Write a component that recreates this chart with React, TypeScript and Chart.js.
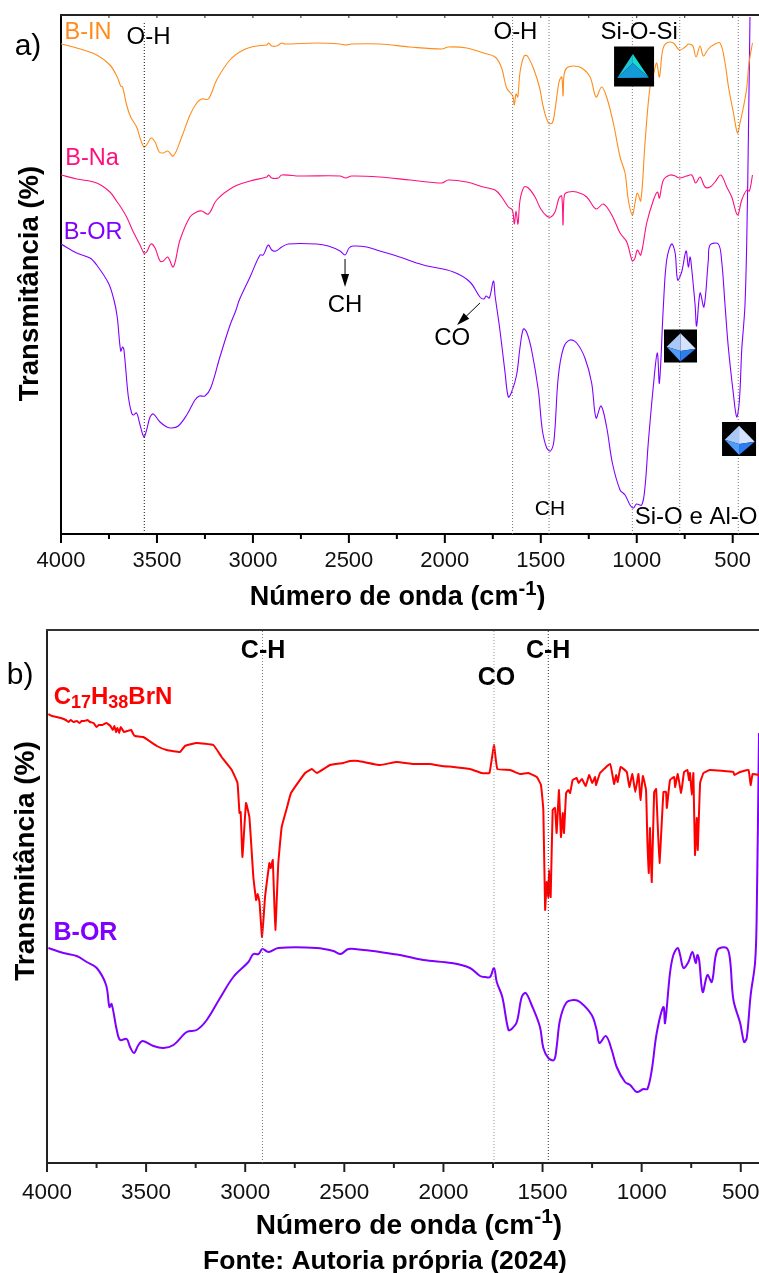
import React, { useEffect, useRef } from "react";
import { Chart, registerables } from "chart.js";

Chart.register(...registerables);

type Pt = [number, number];
const FONT = '"Liberation Sans", Arial, sans-serif';

const xTicksMajor = [4000, 3500, 3000, 2500, 2000, 1500, 1000, 500];
const xTicksMinor = [3750, 3250, 2750, 2250, 1750, 1250, 750];

// Panel a) series: [wavenumber, offset transmittance]
const aBIn: Pt[] = [[4000,490],[3918,486],[3814,479],[3745,469],[3707,457],[3689,448],[3679,447],[3658,429],[3637,417],[3606,407],[3588,396],[3568,387],[3554,389],[3531,396],[3510,392],[3488,382],[3467,381],[3444,383],[3415,378],[3371,397],[3328,419],[3293,431],[3267,435],[3232,435],[3189,454],[3120,474],[3050,484],[2980,488],[2928,489],[2918,491],[2902,488],[2876,488],[2850,491],[2833,490],[2668,491],[2546,490],[2517,489],[2486,490],[2338,490],[2181,487],[2016,485],[1982,487],[1886,486],[1799,481],[1738,477],[1704,466],[1678,446],[1646,438],[1638,429],[1629,440],[1620,437],[1608,462],[1587,478],[1570,478],[1539,466],[1507,447],[1487,427],[1460,411],[1440,411],[1426,424],[1405,452],[1391,457],[1384,438],[1379,459],[1365,466],[1330,468],[1287,466],[1243,457],[1212,437],[1183,447],[1157,437],[1122,411],[1087,377],[1061,361],[1044,334],[1023,319],[1009,331],[997,341],[979,333],[957,391],[931,447],[910,462],[896,471],[882,457],[865,484],[844,491],[809,491],[778,484],[748,487],[731,490],[713,489],[705,487],[691,477],[670,488],[653,478],[627,485],[601,489],[566,491],[540,471],[522,447],[496,421],[475,401],[462,411],[444,427],[427,446],[415,471],[397,491]];
const aBNa: Pt[] = [[4000,359],[3918,355],[3814,351],[3745,342],[3707,332],[3689,327],[3658,317],[3623,302],[3588,289],[3568,281],[3554,282],[3531,290],[3510,286],[3484,273],[3467,273],[3444,277],[3415,267],[3380,294],[3328,317],[3293,322],[3267,323],[3232,320],[3189,334],[3102,347],[3015,353],[2928,357],[2918,359],[2902,356],[2868,356],[2850,359],[2755,358],[2546,358],[2517,356],[2486,358],[2338,357],[2181,354],[2016,351],[1982,354],[1886,352],[1799,347],[1738,344],[1704,337],[1669,327],[1648,324],[1638,310],[1629,323],[1619,310],[1608,334],[1587,347],[1565,346],[1530,337],[1500,325],[1469,318],[1448,317],[1426,322],[1405,336],[1391,338],[1384,309],[1377,339],[1356,342],[1313,342],[1261,337],[1212,325],[1174,330],[1130,319],[1087,301],[1052,292],[1023,273],[1009,276],[997,284],[979,279],[948,311],[913,334],[892,342],[882,336],[861,354],[826,359],[800,358],[778,356],[740,358],[713,359],[693,351],[670,357],[644,347],[618,347],[592,352],[562,359],[531,347],[505,337],[475,319],[453,334],[427,344],[413,343],[397,359]];
const aBOr: Pt[] = [[4000,290],[3918,281],[3849,276],[3814,269],[3753,251],[3724,234],[3707,217],[3689,183],[3679,187],[3672,184],[3649,137],[3632,121],[3623,119],[3606,121],[3588,109],[3568,97],[3554,104],[3536,117],[3519,120],[3484,112],[3449,107],[3423,106],[3389,108],[3345,119],[3302,134],[3279,138],[3250,138],[3220,146],[3172,177],[3119,209],[3088,224],[3071,234],[3015,257],[2963,279],[2946,279],[2920,289],[2902,284],[2880,283],[2850,287],[2816,290],[2668,290],[2607,288],[2546,283],[2520,279],[2499,286],[2477,288],[2407,287],[2338,283],[2251,278],[2112,269],[1955,262],[1869,252],[1817,237],[1796,235],[1785,238],[1768,236],[1747,253],[1738,238],[1713,204],[1686,161],[1669,137],[1652,142],[1626,159],[1608,187],[1591,205],[1574,202],[1548,184],[1513,144],[1492,104],[1469,86],[1449,83],[1431,94],[1409,157],[1382,186],[1348,194],[1313,191],[1270,176],[1235,151],[1212,116],[1186,128],[1157,107],[1127,71],[1087,44],[1061,39],[1035,29],[1018,26],[1001,30],[974,29],[957,47],[940,91],[914,147],[893,181],[882,151],[861,229],[844,274],[818,290],[800,281],[787,254],[766,262],[743,283],[731,267],[722,277],[713,264],[696,229],[688,208],[670,241],[650,227],[627,274],[618,289],[575,290],[558,274],[540,229],[523,187],[497,141],[479,117],[465,134],[453,184],[445,204],[436,229],[427,291],[418,401],[410,517]];

// Panel b) series
const bSurfactant: Pt[] = [[3993,449],[3975,447],[3951,446],[3930,445],[3905,443],[3892,441],[3880,443],[3867,441],[3850,442],[3835,440],[3825,442],[3812,442],[3795,443],[3783,441],[3765,440],[3750,436],[3738,438],[3720,438],[3700,440],[3680,437],[3668,433],[3660,437],[3652,431],[3645,435],[3636,430],[3628,436],[3612,431],[3595,432],[3575,433],[3565,429],[3556,427],[3514,426],[3446,417],[3396,413],[3329,411],[3304,417],[3245,420],[3161,418],[3119,406],[3068,393],[3039,380],[3029,350],[3023,351],[3014,306],[2996,360],[2979,346],[2959,286],[2945,263],[2937,269],[2928,261],[2915,226],[2900,266],[2878,300],[2871,295],[2861,303],[2848,233],[2833,300],[2816,336],[2790,355],[2769,370],[2698,390],[2664,394],[2639,390],[2572,398],[2505,400],[2471,402],[2429,402],[2320,398],[2236,401],[2152,399],[2068,399],[2009,397],[1950,396],[1866,394],[1807,390],[1768,390],[1745,418],[1728,394],[1664,393],[1614,389],[1572,390],[1529,386],[1508,378],[1496,353],[1487,253],[1479,281],[1471,266],[1467,293],[1459,266],[1449,353],[1437,355],[1429,330],[1417,373],[1407,326],[1398,350],[1392,330],[1381,370],[1370,373],[1361,370],[1348,383],[1328,385],[1318,380],[1302,384],[1282,377],[1265,388],[1249,380],[1235,386],[1230,378],[1210,390],[1159,399],[1139,379],[1129,388],[1121,381],[1106,396],[1075,391],[1062,376],[1047,389],[1032,371],[1016,389],[1006,363],[994,387],[978,373],[971,321],[964,290],[958,335],[949,281],[937,371],[927,374],[910,300],[890,371],[877,371],[873,355],[857,383],[836,386],[831,376],[818,389],[801,370],[786,391],[769,393],[761,383],[756,390],[747,368],[739,390],[731,308],[722,345],[717,313],[705,380],[688,390],[655,393],[537,391],[532,388],[503,391],[461,393],[450,378],[440,389],[408,388]];
const bBOr: Pt[] = [[3993,215],[3917,210],[3850,207],[3800,201],[3749,195],[3702,178],[3685,156],[3674,159],[3648,133],[3631,123],[3598,124],[3581,116],[3561,110],[3539,118],[3517,122],[3463,117],[3413,115],[3362,118],[3295,131],[3245,133],[3194,143],[3127,165],[3060,186],[2984,201],[2959,209],[2933,209],[2913,214],[2883,211],[2833,215],[2639,215],[2555,212],[2518,209],[2479,214],[2404,213],[2320,211],[2219,208],[2101,203],[1958,200],[1866,195],[1815,187],[1790,186],[1765,186],[1745,195],[1731,181],[1703,166],[1672,133],[1656,134],[1630,141],[1605,166],[1585,170],[1555,158],[1513,136],[1496,115],[1471,105],[1442,103],[1429,116],[1412,143],[1381,160],[1344,163],[1311,161],[1252,148],[1227,133],[1213,120],[1180,127],[1151,113],[1126,96],[1084,81],[1058,78],[1025,71],[991,74],[971,74],[949,93],[924,130],[890,156],[882,140],[857,190],[840,208],[818,215],[806,208],[789,195],[764,201],[744,211],[727,200],[719,208],[710,203],[692,171],[668,188],[646,181],[618,213],[571,215],[554,203],[537,163],[503,140],[483,121],[470,125],[450,168],[428,200],[420,243],[408,430]];

// Marker lines (wavenumber, dark?)
const aMarkers: { wn: number; top: number; color: string }[] = [
  { wn: 3566, top: 512, color: "#111111" },
  { wn: 1647, top: 519, color: "#777777" },
  { wn: 1457, top: 519, color: "#777777" },
  { wn: 1023, top: 519, color: "#777777" },
  { wn: 776, top: 519, color: "#777777" },
  { wn: 471, top: 519, color: "#777777" },
];
const bMarkers: { wn: number; top: number; color: string }[] = [
  { wn: 2913, top: 533, color: "#777777" },
  { wn: 1745, top: 533, color: "#999999" },
  { wn: 1471, top: 533, color: "#333333" },
];

const cOrange = "#ff8c1a";
const cPink = "#ff0f7f";
const cPurple = "#8000ff";
const cRed = "#ff0000";

type Seg = { t: string; m?: "sup" | "sub" };
type Label = { segs: Seg[]; wn: number; T: number; size: number; bold?: boolean; color?: string; rot?: boolean };
const L = (t: string, wn: number, T: number, size: number, color = "#000", bold = false, rot = false): Label => ({ segs: [{ t }], wn, T, size, color, bold, rot });

const aLabels: Label[] = [
  L("a)", 4172, 490, 30),
  L("B-IN", 3859, 503, 23.5, cOrange),
  L("O-H", 3544, 498.5, 24),
  L("B-Na", 3838, 377, 23.5, cPink),
  L("B-OR", 3833, 303, 23.5, cPurple),
  L("CH", 2520, 231, 24),
  L("O-H", 1632, 504, 24),
  L("Si-O-Si", 988, 504, 24),
  L("CO", 1962, 198, 24),
  L("CH", 1452, 27, 21),
  L("Si-O e Al-O", 691, 19, 24),
  L("Transmitância (%)", 4169, 250.5, 27.5, "#000", true, true),
  { segs: [{ t: "Número de onda (cm" }, { t: "-1", m: "sup" }, { t: ")" }], wn: 2246, T: -61.5, size: 27, bold: true, color: "#000" },
];
const bLabels: Label[] = [
  L("b)", 4136, 490, 30),
  L("C-H", 2910, 514, 25, "#000", true),
  L("C-H", 1472, 514, 25, "#000", true),
  L("CO", 1732, 487, 25, "#000", true),
  { segs: [{ t: "C" }, { t: "17", m: "sub" }, { t: "H" }, { t: "38", m: "sub" }, { t: "BrN" }], wn: 3667, T: 468, size: 24, bold: true, color: cRed },
  L("B-OR", 3806, 231.5, 25, cPurple, true),
  L("Transmitância (%)", 4116, 302, 28, "#000", true, true),
  { segs: [{ t: "Número de onda (cm" }, { t: "-1", m: "sup" }, { t: ")" }], wn: 2174, T: -61, size: 28, bold: true, color: "#000" },
  L("Fonte: Autoria própria (2024)", 2295, -97, 26.5, "#000", true),
];

const aArrows: { from: Pt; to: Pt }[] = [
  { from: [2520, 275], to: [2520, 247] },
  { from: [1817, 231], to: [1936, 209] },
];
const aIcons: { kind: "tri" | "dia"; wn: number; T: number; size: number }[] = [
  { kind: "tri", wn: 1014, T: 467.5, size: 40 },
  { kind: "dia", wn: 772, T: 188, size: 33 },
  { kind: "dia", wn: 467, T: 95, size: 34 },
];

function drawRich(ctx: CanvasRenderingContext2D, lab: Label, x: number, y: number) {
  ctx.save();
  ctx.translate(x, y);
  if (lab.rot) ctx.rotate(-Math.PI / 2);
  const w = lab.bold ? "bold " : "";
  const small = 0.75;
  const fontFor = (s: Seg) => `${w}${s.m ? lab.size * small : lab.size}px ${FONT}`;
  let total = 0;
  for (const s of lab.segs) {
    ctx.font = fontFor(s);
    total += ctx.measureText(s.t).width;
  }
  let cx = -total / 2;
  ctx.fillStyle = lab.color || "#000";
  ctx.textAlign = "left";
  ctx.textBaseline = "alphabetic";
  const base = lab.size * 0.358;
  for (const s of lab.segs) {
    ctx.font = fontFor(s);
    const dy = s.m === "sub" ? lab.size * 0.2 : s.m === "sup" ? -lab.size * 0.38 : 0;
    ctx.fillText(s.t, cx, base + dy);
    cx += ctx.measureText(s.t).width;
  }
  ctx.restore();
}

function drawIcon(ctx: CanvasRenderingContext2D, kind: "tri" | "dia", x: number, y: number, s: number) {
  const poly = (pts: number[][], fill: string) => {
    ctx.beginPath();
    pts.forEach((p, i) => (i ? ctx.lineTo(x + p[0] * s, y + p[1] * s) : ctx.moveTo(x + p[0] * s, y + p[1] * s)));
    ctx.closePath();
    ctx.fillStyle = fill;
    ctx.fill();
  };
  ctx.fillStyle = "#000";
  ctx.fillRect(x - s / 2, y - s / 2, s, s);
  if (kind === "tri") {
    poly([[-0.03, -0.31], [-0.42, 0.29], [-0.03, -0.08]], "#1cc6d8");
    poly([[-0.03, -0.31], [0.37, 0.28], [-0.03, -0.08]], "#14dcd0");
    poly([[-0.42, 0.29], [-0.03, -0.08], [0.37, 0.28]], "#149ad8");
  } else {
    poly([[0, -0.39], [-0.42, 0.02], [0, 0.15]], "#a9c8f8");
    poly([[0, -0.39], [0.46, 0.08], [0, 0.15]], "#d3e2ff");
    poly([[-0.42, 0.02], [0, 0.47], [0, 0.15]], "#4f9dfa");
    poly([[0.46, 0.08], [0, 0.47], [0, 0.15]], "#2d7df0");
  }
}

function makePlugin(cfg: {
  labels: Label[];
  arrows: { from: Pt; to: Pt }[];
  icons: { kind: "tri" | "dia"; wn: number; T: number; size: number }[];
  topTicks: boolean;
  topColor: string;
  tickColor: string;
}) {
  return {
    id: "decor",
    afterDraw(chart: any) {
      const { ctx, scales, chartArea } = chart;
      const X = scales.x;
      const Y = scales.y;
      ctx.save();
      ctx.strokeStyle = cfg.tickColor;
      ctx.lineWidth = 2;
      const vtick = (v: number, y0: number, y1: number) => {
        const px = X.getPixelForValue(v);
        ctx.beginPath();
        ctx.moveTo(px, y0);
        ctx.lineTo(px, y1);
        ctx.stroke();
      };
      xTicksMajor.forEach((v) => vtick(v, chartArea.bottom, chartArea.bottom + 9));
      xTicksMinor.forEach((v) => vtick(v, chartArea.bottom, chartArea.bottom + 5));
      ctx.strokeStyle = cfg.topColor;
      ctx.beginPath();
      ctx.moveTo(chartArea.left - 1, chartArea.top);
      ctx.lineTo(chartArea.right, chartArea.top);
      ctx.stroke();
      if (cfg.topTicks) {
        ctx.lineWidth = 1;
        [...xTicksMajor, ...xTicksMinor].forEach((v) => vtick(v, chartArea.top, chartArea.top + 3));
      }
      cfg.icons.forEach((ic) => drawIcon(ctx, ic.kind, X.getPixelForValue(ic.wn), Y.getPixelForValue(ic.T), ic.size));
      cfg.arrows.forEach((a) => {
        const x0 = X.getPixelForValue(a.from[0]);
        const y0 = Y.getPixelForValue(a.from[1]);
        const x1 = X.getPixelForValue(a.to[0]);
        const y1 = Y.getPixelForValue(a.to[1]);
        const ang = Math.atan2(y1 - y0, x1 - x0);
        ctx.strokeStyle = "#000";
        ctx.lineWidth = 1;
        ctx.beginPath();
        ctx.moveTo(x0, y0);
        ctx.lineTo(x1 - 8 * Math.cos(ang), y1 - 8 * Math.sin(ang));
        ctx.stroke();
        ctx.fillStyle = "#000";
        ctx.beginPath();
        ctx.moveTo(x1, y1);
        ctx.lineTo(x1 - 13 * Math.cos(ang) + 4 * Math.sin(ang), y1 - 13 * Math.sin(ang) - 4 * Math.cos(ang));
        ctx.lineTo(x1 - 13 * Math.cos(ang) - 4 * Math.sin(ang), y1 - 13 * Math.sin(ang) + 4 * Math.cos(ang));
        ctx.closePath();
        ctx.fill();
      });
      cfg.labels.forEach((l) => drawRich(ctx, l, X.getPixelForValue(l.wn), Y.getPixelForValue(l.T)));
      ctx.restore();
    },
  };
}

const series = (label: string, pts: Pt[], color: string, width: number, tension: number) => ({
  label,
  data: pts.map(([x, y]) => ({ x, y })),
  borderColor: color,
  borderWidth: width,
  pointRadius: 0,
  tension,
  borderJoinStyle: "round" as const,
  fill: false,
});
const marker = (m: { wn: number; top: number; color: string }, width: number) => ({
  label: "marker " + m.wn,
  data: [{ x: m.wn, y: 0 }, { x: m.wn, y: m.top }],
  borderColor: m.color,
  borderWidth: width,
  borderDash: [1, 2],
  pointRadius: 0,
  fill: false,
});

function makeOptions(o: {
  xMin: number; yMax: number; pad: { left: number; right: number; top: number; bottom: number };
  tickSize: number; tickPad: number; axisColor: string;
}) {
  return {
    animation: false,
    responsive: false,
    layout: { padding: o.pad },
    plugins: { legend: { display: false }, tooltip: { enabled: false }, title: { display: false } },
    scales: {
      x: {
        type: "linear",
        reverse: true,
        min: o.xMin,
        max: 4000,
        afterBuildTicks: (ax: any) => { ax.ticks = xTicksMajor.map((value) => ({ value })); },
        afterFit: (ax: any) => { ax.height = 50; },
        ticks: {
          autoSkip: false, maxRotation: 0, minRotation: 0, padding: o.tickPad, color: "#111",
          font: { family: FONT, size: o.tickSize },
          callback: (v: number) => String(v),
        },
        grid: { drawOnChartArea: false, tickLength: 9, tickColor: "transparent" },
        border: { color: o.axisColor, width: 2 },
      },
      y: {
        type: "linear",
        min: 0,
        max: o.yMax,
        ticks: { display: false },
        grid: { drawOnChartArea: false, drawTicks: false },
        border: { color: o.axisColor, width: 2 },
      },
    },
  } as any;
}

export default function App() {
  const refA = useRef<HTMLCanvasElement>(null);
  const refB = useRef<HTMLCanvasElement>(null);
  useEffect(() => {
    const a = new Chart(refA.current!, {
      type: "line",
      data: {
        datasets: [
          ...aMarkers.map((m) => marker(m, 1)),
          series("B-IN", aBIn, cOrange, 1.1, 0.35),
          series("B-Na", aBNa, cPink, 1.1, 0.35),
          series("B-OR", aBOr, cPurple, 1.1, 0.35),
        ] as any,
      },
      options: makeOptions({
        xMin: 363, yMax: 519,
        pad: { left: 61, right: 41, top: 15, bottom: 26 },
        tickSize: 22, tickPad: 5, axisColor: "#000",
      }),
      plugins: [makePlugin({ labels: aLabels, arrows: aArrows, icons: aIcons, topTicks: true, topColor: "#222", tickColor: "#000" })],
    });
    const b = new Chart(refB.current!, {
      type: "line",
      data: {
        datasets: [
          ...bMarkers.map((m) => marker(m, 1)),
          series("C17H38BrN", bSurfactant, cRed, 2, 0.1),
          series("B-OR", bBOr, cPurple, 2, 0.35),
        ] as any,
      },
      options: makeOptions({
        xMin: 408, yMax: 533,
        pad: { left: 47, right: 41, top: 20, bottom: 60 },
        tickSize: 22.5, tickPad: 7, axisColor: "#222",
      }),
      plugins: [makePlugin({ labels: bLabels, arrows: [], icons: [], topTicks: false, topColor: "#333", tickColor: "#222" })],
    });
    return () => {
      a.destroy();
      b.destroy();
    };
  }, []);
  return (
    <div style={{ position: "fixed", left: 0, top: 0, width: 759, height: 1273, overflow: "hidden", background: "#fff" }}>
      <canvas ref={refA} width={800} height={610} style={{ position: "absolute", left: 0, top: 0, display: "block" }} />
      <canvas ref={refB} width={800} height={663} style={{ position: "absolute", left: 0, top: 610, display: "block" }} />
    </div>
  );
}
